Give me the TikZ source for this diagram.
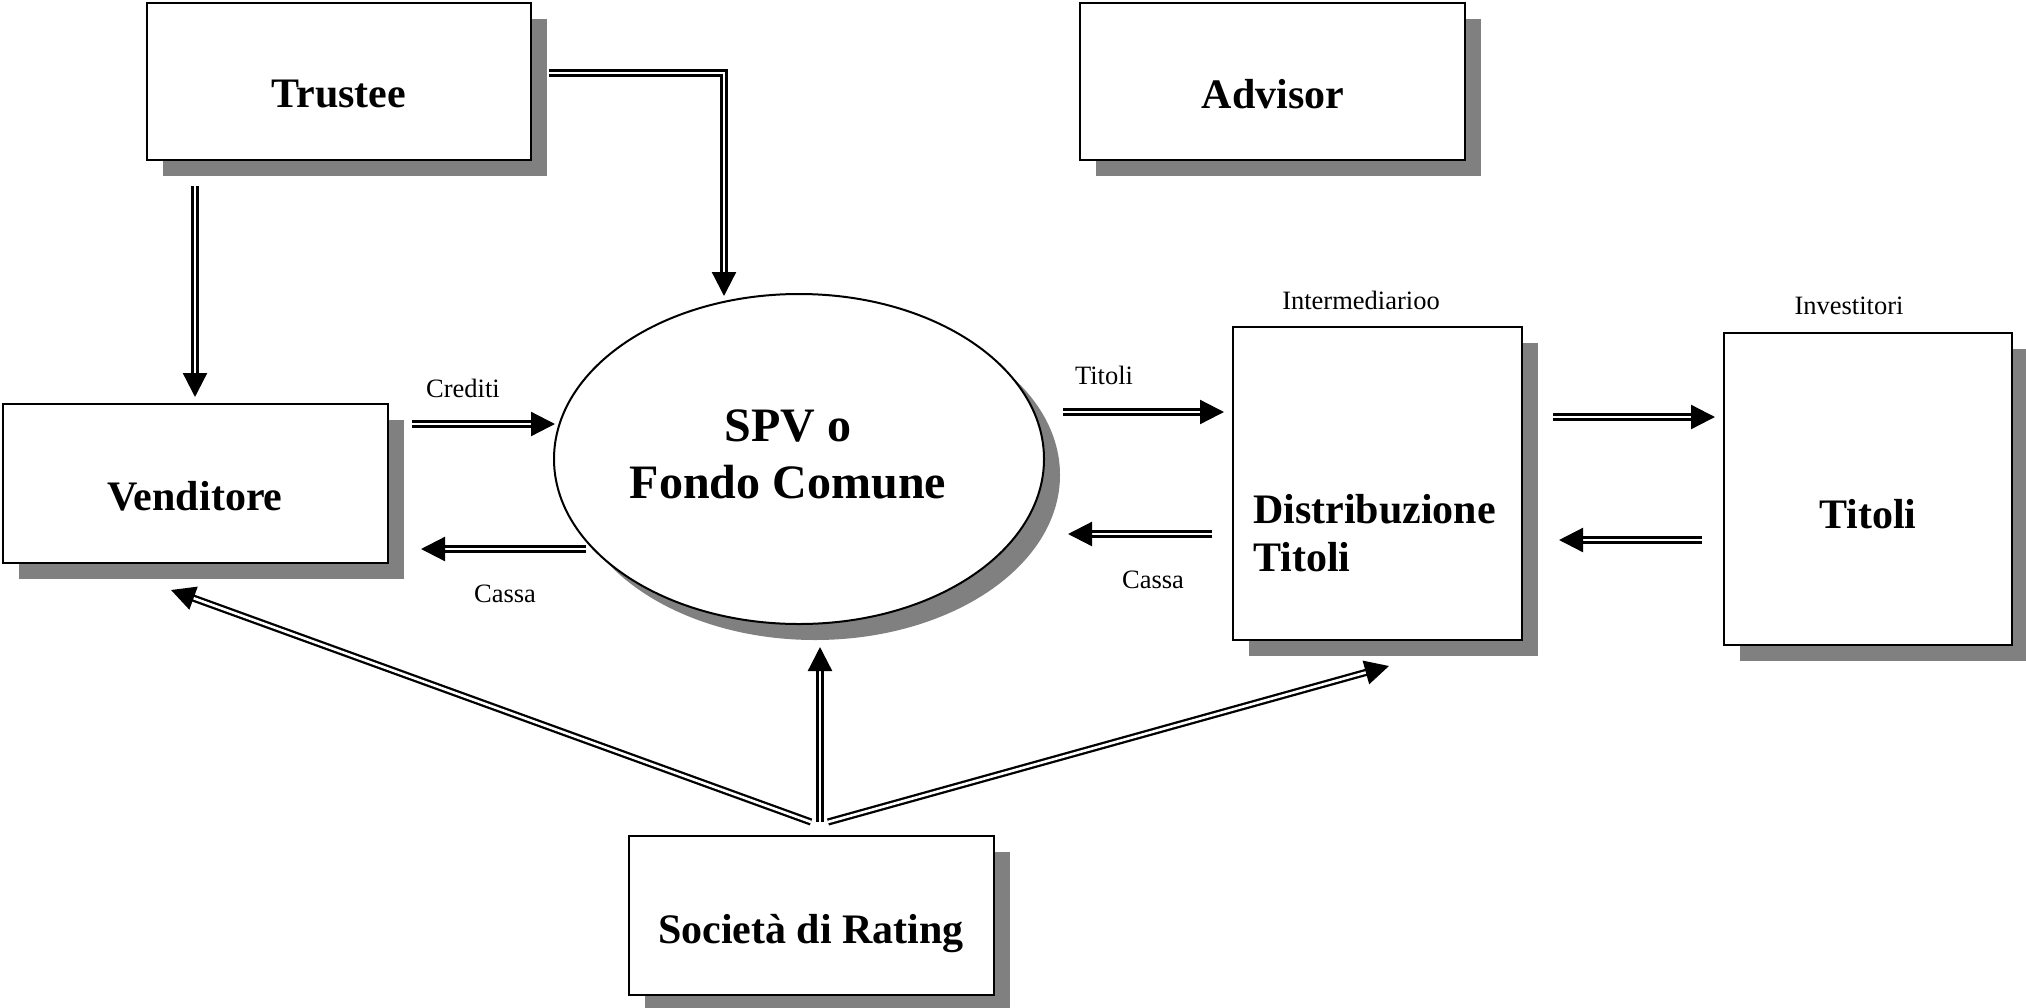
\documentclass[tikz,border=0pt]{standalone}
\usepackage{fontspec}
\setmainfont{Liberation Serif}
\usetikzlibrary{arrows.meta,shapes.geometric,shadows,calc}
\definecolor{shadowgray}{RGB}{128,128,128}
\tikzset{
  boxnode/.style={draw=black, line width=2pt, fill=white, inner sep=0pt,
    drop shadow={opacity=1, fill=shadowgray, draw=none, shadow xshift=16pt, shadow yshift=-16pt}},
  bigtext/.style={font=\fontsize{42}{48}\selectfont\bfseries, inner sep=0pt},
  smalltext/.style={font=\fontsize{26.5}{30}\selectfont, inner sep=0pt},
  flow/.style={draw=black, line width=2.3pt, double=white, double distance=2.6pt,
    -{Triangle[length=24pt,width=24pt]}},
}
\begin{document}
\begin{tikzpicture}[x=1pt,y=-1pt]
\useasboundingbox (0,0) rectangle (2026,1007);

% boxes
\node[boxnode, minimum width=384pt, minimum height=157pt] (trustee) at (339,81.5) {};
\node[boxnode, minimum width=385pt, minimum height=157pt] (advisor) at (1272.5,81.5) {};
\node[boxnode, minimum width=385pt, minimum height=159pt] (vend) at (195.5,483.5) {};
\node[boxnode, ellipse, minimum width=490pt, minimum height=330pt] (spv) at (799,459) {};
\node[boxnode, minimum width=289pt, minimum height=313pt] (distr) at (1377.5,483.5) {};
\node[boxnode, minimum width=288pt, minimum height=312pt] (invest) at (1868,489) {};
\node[boxnode, minimum width=365pt, minimum height=159pt] (rating) at (811.5,915.5) {};

% box texts
\node[bigtext] (trusteeT) at (339,94) {Trustee};
\node[bigtext] (advisorT) at (1273,94) {Advisor};
\node[bigtext] (vendT) at (195,496) {Venditore};
\node[bigtext, font=\fontsize{48}{57}\selectfont\bfseries, align=center] (spvT) at (788,454) {SPV o\\Fondo Comune};
\node[bigtext, align=left, anchor=west] (distrT) at (1253,533) {Distribuzione\\Titoli};
\node[bigtext] (investT) at (1868,514) {Titoli};
\node[bigtext] (ratingT) at (811,934) {Società di Rating};

% small labels
\node[smalltext] (lcred) at (463,388) {Crediti};
\node[smalltext] (lcassa1) at (505,594) {Cassa};
\node[smalltext] (ltit) at (1104,375) {Titoli};
\node[smalltext] (lcassa2) at (1153,580) {Cassa};
\node[smalltext] (linter) at (1361,300) {Intermediarioo};
\node[smalltext] (linv) at (1849,306) {Investitori};

% connectors
\draw[flow] ($(trustee.south west)+(49,25)$) -- ($(vend.north west)+(193,-6)$);
\draw[flow] ($(trustee.north east)+(17,71)$) -| ($(spv.north)+(-75,3)$);
\draw[flow] ($(vend.east)+(23,-59.5)$) -- ($(spv.west)+(2,-35)$);
\draw[flow] ($(spv.west)+(33,90)$) -- ($(vend.east)+(32,65.5)$);
\draw[flow] ($(spv.east)+(18,-47)$) -- ($(distr.west)+(-8,-71.5)$);
\draw[flow] ($(distr.west)+(-20,50.5)$) -- ($(spv.east)+(23,75)$);
\draw[flow] ($(distr.east)+(30,-66.5)$) -- ($(invest.west)+(-8,-72)$);
\draw[flow] ($(invest.west)+(-21,51)$) -- ($(distr.east)+(36,56.5)$);
\draw[flow] ($(rating.north)+(8.5,-13)$) -- ($(spv.south)+(21,22)$);
\draw[flow] ($(rating.north)+(-0.5,-13)$) -- ($(vend.south west)+(169,26)$);
\draw[flow] ($(rating.north)+(16.5,-13)$) -- ($(distr.south west)+(157,25)$);
\end{tikzpicture}
\end{document}
